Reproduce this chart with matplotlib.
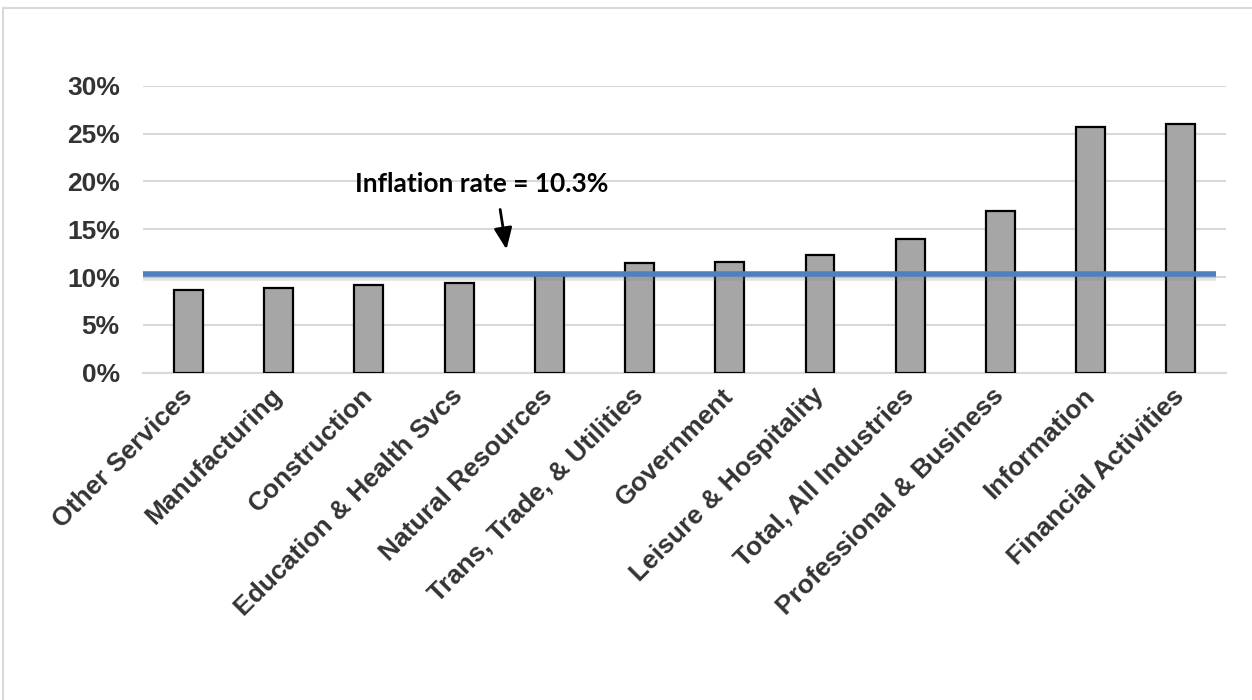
import matplotlib.pyplot as plt
import matplotlib.patheffects as pe
from matplotlib.patches import Rectangle

# wage growth by industry (%)
industries = ["Other Services", "Manufacturing", "Construction",
              "Education & Health Svcs", "Natural Resources",
              "Trans, Trade, & Utilities", "Government", "Leisure & Hospitality",
              "Total, All Industries", "Professional & Business", "Information",
              "Financial Activities"]
growth = [8.6, 8.8, 9.2, 9.4, 10.2, 11.5, 11.6, 12.3, 14.0, 16.9, 25.7, 26.0]
inflation = 10.3
yticks = [0, 5, 10, 15, 20, 25, 30]

fig = plt.figure(figsize=(12.52, 7), dpi=100)
ax = fig.add_axes([0.1145, 0.4676, 0.8647, 0.41])

# outer chart frame
fig.patches.append(Rectangle((3 / 1252, -0.1), 1.2, 1 - 8 / 700 + 0.1,
                             transform=fig.transFigure, fill=False,
                             edgecolor="#d9d9d9", linewidth=1.5))

x = range(len(industries))
ax.bar(x, growth, width=0.32, color="#a6a6a6", edgecolor="black",
       linewidth=1.6, zorder=3)

ax.hlines(inflation, -0.5, 11.39, color="#4f81bd", linewidth=4, zorder=4,
          path_effects=[pe.SimpleLineShadow(offset=(0, -2.5), shadow_color="gray", alpha=0.22),
                        pe.Normal()])

ax.annotate("", xy=(3.53, 12.6), xytext=(3.45, 17.35),
            arrowprops=dict(arrowstyle="-|>,head_length=1.3,head_width=0.55",
                            color="black", lw=2), zorder=5)
ax.text(3.25, 19.7, "Inflation rate = 10.3%", family="Lato", fontweight="bold",
        fontsize=19, ha="center", va="center", color="black", zorder=5)

ax.set_xlim(-0.5, 11.5)
ax.set_ylim(0, 30)
ax.set_yticks(yticks)
ax.set_yticklabels([f"{v}%" for v in yticks])
ax.set_xticks(list(x))
ax.set_xticklabels(industries, rotation=45, ha="right", va="center",
                   rotation_mode="anchor")

for lab in ax.get_xticklabels() + ax.get_yticklabels():
    lab.set_family("Liberation Sans")
    lab.set_fontweight("bold")
    lab.set_fontsize(19)
    lab.set_color("#333333")

ax.tick_params(axis="y", length=0, pad=17)
ax.tick_params(axis="x", length=0, pad=14)
ax.grid(axis="y", color="#d9d9d9", linewidth=1.5, zorder=0)
ax.set_axisbelow(True)
for s in ["top", "right", "left"]:
    ax.spines[s].set_visible(False)
ax.spines["bottom"].set_color("#d9d9d9")
ax.spines["bottom"].set_linewidth(1.5)

plt.savefig("out.png", dpi=100)
